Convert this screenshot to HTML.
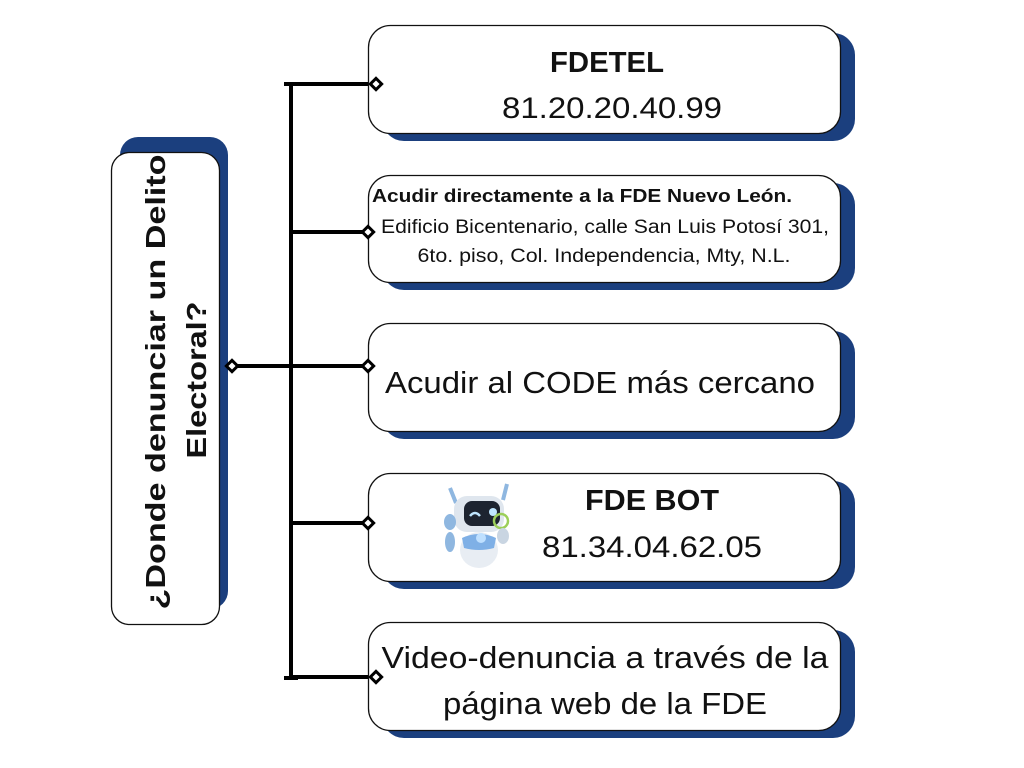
<!DOCTYPE html>
<html><head><meta charset="utf-8"><style>
html,body{margin:0;padding:0;background:#fff;}
svg{display:block}
text{font-family:"Liberation Sans",Arial,sans-serif;fill:#111}
</style></head><body>
<svg width="1024" height="768" viewBox="0 0 1024 768" xmlns="http://www.w3.org/2000/svg">
<!-- left box -->
<rect x="120" y="137" width="108" height="472" rx="18" fill="#1b3f7e"/>
<rect x="111.5" y="152.5" width="108" height="472" rx="18" fill="#fff" stroke="#111" stroke-width="1.3"/>
<g transform="translate(155,382) rotate(-90)">
<text x="0" y="10" text-anchor="middle" font-size="28" font-weight="bold" textLength="455" lengthAdjust="spacingAndGlyphs">¿Donde denunciar un Delito</text>
</g>
<g transform="translate(196,380) rotate(-90)">
<text x="0" y="10" text-anchor="middle" font-size="28" font-weight="bold" textLength="157" lengthAdjust="spacingAndGlyphs">Electoral?</text>
</g>
<!-- connectors -->
<g stroke="#000" stroke-width="4" fill="none">
<line x1="291" y1="84" x2="291" y2="678"/>
<line x1="284" y1="84" x2="298" y2="84"/>
<line x1="284" y1="678" x2="298" y2="678"/>
<line x1="291" y1="84" x2="372" y2="84"/>
<line x1="291" y1="232" x2="366" y2="232"/>
<line x1="236" y1="366" x2="366" y2="366"/>
<line x1="291" y1="523" x2="366" y2="523"/>
<line x1="291" y1="677" x2="372" y2="677"/>
</g>
<!-- right boxes -->
<g fill="#1b3f7e">
<rect x="382" y="33" width="473" height="108" rx="22"/>
<rect x="382" y="183" width="473" height="107" rx="22"/>
<rect x="382" y="331" width="473" height="108" rx="22"/>
<rect x="382" y="481" width="473" height="108" rx="22"/>
<rect x="382" y="630" width="473" height="108" rx="22"/>
</g>
<g fill="#fff" stroke="#111" stroke-width="1.3">
<rect x="368.5" y="25.5" width="472" height="108" rx="22"/>
<rect x="368.5" y="175.5" width="472" height="107" rx="22"/>
<rect x="368.5" y="323.5" width="472" height="108" rx="22"/>
<rect x="368.5" y="473.5" width="472" height="108" rx="22"/>
<rect x="368.5" y="622.5" width="472" height="108" rx="22"/>
</g>
<g fill="#fff" stroke="#000" stroke-width="3">
<rect x="372" y="80" width="8" height="8" transform="rotate(45 376 84)"/>
<rect x="364" y="228" width="8" height="8" transform="rotate(45 368 232)"/>
<rect x="364" y="362" width="8" height="8" transform="rotate(45 368 366)"/>
<rect x="228" y="362" width="8" height="8" transform="rotate(45 232 366)"/>
<rect x="364" y="519" width="8" height="8" transform="rotate(45 368 523)"/>
<rect x="372" y="673" width="8" height="8" transform="rotate(45 376 677)"/>
</g>
<text x="607" y="72" text-anchor="middle" font-size="29" font-weight="bold" textLength="114" lengthAdjust="spacingAndGlyphs">FDETEL</text>
<text x="612" y="118" text-anchor="middle" font-size="30" textLength="220" lengthAdjust="spacingAndGlyphs">81.20.20.40.99</text>
<text x="582" y="202" text-anchor="middle" font-size="18" font-weight="bold" textLength="420" lengthAdjust="spacingAndGlyphs">Acudir directamente a la FDE Nuevo León.</text>
<text x="605" y="233" text-anchor="middle" font-size="19" textLength="448" lengthAdjust="spacingAndGlyphs">Edificio Bicentenario, calle San Luis Potosí 301,</text>
<text x="604" y="262" text-anchor="middle" font-size="19" textLength="373" lengthAdjust="spacingAndGlyphs">6to. piso, Col. Independencia, Mty, N.L.</text>
<text x="600" y="393" text-anchor="middle" font-size="31" textLength="430" lengthAdjust="spacingAndGlyphs">Acudir al CODE más cercano</text>
<text x="652" y="510" text-anchor="middle" font-size="29" font-weight="bold" textLength="134" lengthAdjust="spacingAndGlyphs">FDE BOT</text>
<text x="652" y="557" text-anchor="middle" font-size="30" textLength="220" lengthAdjust="spacingAndGlyphs">81.34.04.62.05</text>
<text x="605" y="668" text-anchor="middle" font-size="31" textLength="447" lengthAdjust="spacingAndGlyphs">Video-denuncia a través de la</text>
<text x="605" y="714" text-anchor="middle" font-size="31" textLength="324" lengthAdjust="spacingAndGlyphs">página web de la FDE</text>
<!-- robot -->
<g>
<line x1="450" y1="488" x2="456" y2="503" stroke="#8fb7e0" stroke-width="4"/>
<line x1="507" y1="484" x2="503" y2="500" stroke="#8fb7e0" stroke-width="4"/>
<ellipse cx="479" cy="550" rx="19" ry="18" fill="#e8edf3"/>
<path d="M462 538 Q479 530 496 538 L494 548 Q479 552 464 548Z" fill="#7fb0e6"/>
<circle cx="481" cy="538" r="5" fill="#bfe0ff"/>
<rect x="454" y="496" width="50" height="36" rx="13" fill="#dfe6ee"/>
<rect x="464" y="501" width="36" height="25" rx="8" fill="#1d2430"/>
<path d="M470 516 q5 -6 10 0" stroke="#bfe6ff" stroke-width="2.5" fill="none"/>
<circle cx="493" cy="512" r="4" fill="#bfe6ff"/>
<ellipse cx="450" cy="522" rx="6" ry="8" fill="#8fb7e0"/>
<ellipse cx="450" cy="542" rx="5" ry="10" fill="#8fb7e0"/>
<circle cx="501" cy="521" r="7" fill="none" stroke="#9ccf5a" stroke-width="2.5"/>
<ellipse cx="503" cy="536" rx="6" ry="8" fill="#c9d5e2"/>
</g>
</svg>
</body></html>
